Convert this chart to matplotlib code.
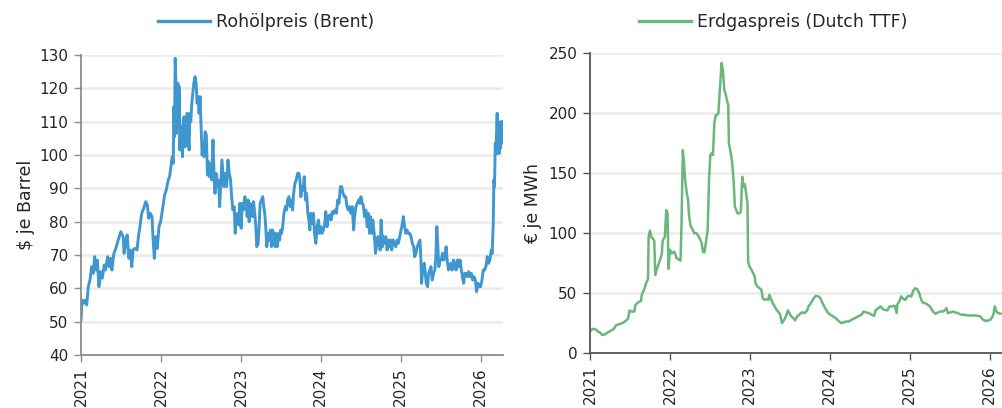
import matplotlib
matplotlib.use("Agg")
import matplotlib.pyplot as plt
from matplotlib.lines import Line2D

# ---------------- data ----------------
brent_years = [
    2021.000, 2021.012, 2021.029, 2021.050, 2021.071, 2021.091, 2021.112, 2021.133, 2021.154, 2021.170,
    2021.187, 2021.203, 2021.224, 2021.241, 2021.266, 2021.290, 2021.307, 2021.332, 2021.353, 2021.369,
    2021.386, 2021.411, 2021.436, 2021.465, 2021.498, 2021.527, 2021.539, 2021.556, 2021.577, 2021.598,
    2021.618, 2021.635, 2021.651, 2021.676, 2021.701, 2021.718, 2021.734, 2021.759, 2021.784, 2021.809,
    2021.830, 2021.846, 2021.867, 2021.888, 2021.900, 2021.917, 2021.934, 2021.954, 2021.975, 2021.996,
    2022.025, 2022.046, 2022.066, 2022.091, 2022.108, 2022.124, 2022.141, 2022.154, 2022.162, 2022.170,
    2022.178, 2022.187, 2022.195, 2022.203, 2022.212, 2022.220, 2022.228, 2022.237, 2022.245, 2022.257,
    2022.270, 2022.278, 2022.290, 2022.303, 2022.315, 2022.328, 2022.340, 2022.353, 2022.361, 2022.373,
    2022.386, 2022.398, 2022.411, 2022.427, 2022.440, 2022.452, 2022.465, 2022.477, 2022.490, 2022.502,
    2022.515, 2022.527, 2022.539, 2022.552, 2022.568, 2022.581, 2022.593, 2022.606, 2022.622, 2022.635,
    2022.651, 2022.664, 2022.676, 2022.689, 2022.705, 2022.722, 2022.734, 2022.751, 2022.763, 2022.776,
    2022.788, 2022.805, 2022.822, 2022.838, 2022.855, 2022.871, 2022.884, 2022.900, 2022.917, 2022.929,
    2022.942, 2022.959, 2022.975, 2022.988, 2023.004, 2023.017, 2023.033, 2023.050, 2023.066, 2023.079,
    2023.091, 2023.104, 2023.116, 2023.133, 2023.145, 2023.158, 2023.174, 2023.187, 2023.199, 2023.216,
    2023.228, 2023.241, 2023.257, 2023.274, 2023.286, 2023.299, 2023.311, 2023.324, 2023.340, 2023.353,
    2023.369, 2023.382, 2023.394, 2023.411, 2023.427, 2023.440, 2023.456, 2023.473, 2023.485, 2023.498,
    2023.510, 2023.523, 2023.539, 2023.556, 2023.573, 2023.585, 2023.602, 2023.618, 2023.631, 2023.647,
    2023.660, 2023.676, 2023.693, 2023.710, 2023.726, 2023.739, 2023.751, 2023.763, 2023.780, 2023.793,
    2023.809, 2023.822, 2023.838, 2023.851, 2023.863, 2023.876, 2023.892, 2023.909, 2023.921, 2023.938,
    2023.954, 2023.971, 2023.983, 2024.000, 2024.017, 2024.033, 2024.050, 2024.062, 2024.079, 2024.095,
    2024.112, 2024.129, 2024.145, 2024.162, 2024.178, 2024.195, 2024.212, 2024.228, 2024.245, 2024.261,
    2024.278, 2024.295, 2024.311, 2024.328, 2024.344, 2024.361, 2024.378, 2024.394, 2024.411, 2024.423,
    2024.440, 2024.456, 2024.473, 2024.490, 2024.502, 2024.519, 2024.531, 2024.548, 2024.564, 2024.581,
    2024.593, 2024.610, 2024.622, 2024.639, 2024.651, 2024.668, 2024.685, 2024.697, 2024.714, 2024.730,
    2024.743, 2024.755, 2024.772, 2024.784, 2024.801, 2024.813, 2024.830, 2024.842, 2024.859, 2024.871,
    2024.888, 2024.905, 2024.921, 2024.938, 2024.954, 2024.971, 2024.988, 2025.004, 2025.021, 2025.033,
    2025.046, 2025.062, 2025.079, 2025.095, 2025.112, 2025.129, 2025.145, 2025.162, 2025.174, 2025.191,
    2025.207, 2025.224, 2025.241, 2025.253, 2025.261, 2025.278, 2025.295, 2025.307, 2025.320, 2025.336,
    2025.349, 2025.365, 2025.378, 2025.394, 2025.411, 2025.427, 2025.440, 2025.452, 2025.465, 2025.477,
    2025.490, 2025.506, 2025.523, 2025.539, 2025.552, 2025.568, 2025.581, 2025.598, 2025.614, 2025.627,
    2025.643, 2025.660, 2025.676, 2025.693, 2025.710, 2025.726, 2025.743, 2025.759, 2025.772, 2025.788,
    2025.801, 2025.817, 2025.834, 2025.851, 2025.867, 2025.884, 2025.900, 2025.917, 2025.934, 2025.950,
    2025.967, 2025.983, 2026.000, 2026.017, 2026.033, 2026.050, 2026.066, 2026.083, 2026.100, 2026.116,
    2026.133, 2026.145, 2026.158, 2026.166, 2026.174, 2026.183, 2026.191, 2026.199, 2026.207, 2026.216,
    2026.224, 2026.232, 2026.241, 2026.249, 2026.257, 2026.266, 2026.274, 2026.278,
]
brent_usd = [
    50.5, 56.5, 55.5, 56.5, 55.0, 60.5, 62.5, 66.5, 64.5, 69.5,
    65.5, 68.5, 60.5, 65.0, 63.0, 67.0, 65.5, 69.5, 66.5, 69.0,
    65.5, 70.5, 72.0, 74.5, 77.0, 75.5, 70.5, 73.5, 76.0, 69.0,
    71.5, 66.5, 71.5, 72.0, 71.5, 75.5, 78.0, 82.5, 84.0, 86.0,
    85.0, 81.0, 82.5, 81.5, 75.5, 69.0, 75.5, 72.0, 78.5, 80.0,
    84.5, 88.0, 89.5, 92.5, 93.5, 96.5, 99.5, 97.5, 114.5, 105.5,
    129.0, 121.5, 106.5, 111.5, 121.5, 108.5, 120.5, 101.5, 108.5, 106.5,
    99.5, 110.5, 111.5, 102.5, 105.5, 112.5, 104.5, 101.5, 112.5, 110.0,
    115.5, 118.5, 121.5, 123.5, 121.5, 115.5, 117.5, 112.5, 117.5, 108.5,
    100.0, 104.0, 99.5, 107.0, 106.0, 94.0, 98.0, 93.5, 97.5, 92.5,
    104.5, 94.5, 88.5, 94.5, 90.5, 92.5, 84.5, 92.5, 98.5, 94.5,
    90.5, 94.5, 90.5, 98.5, 94.5, 92.5, 87.5, 83.5, 84.5, 76.5,
    81.5, 82.5, 79.0, 85.5, 78.0, 85.5, 83.5, 87.5, 85.5, 81.5,
    86.5, 80.0, 85.5, 83.5, 81.5, 86.0, 82.5, 78.5, 72.5, 73.5,
    78.5, 85.5, 86.5, 87.5, 84.5, 82.5, 78.5, 72.5, 76.5, 74.5,
    77.5, 72.5, 77.5, 76.5, 72.5, 76.5, 72.5, 76.5, 74.5, 77.5,
    76.5, 78.5, 82.5, 84.5, 83.5, 86.5, 87.5, 84.5, 86.5, 83.5,
    88.5, 91.5, 92.5, 94.5, 94.5, 92.5, 87.5, 90.5, 89.5, 93.5,
    86.5, 88.5, 82.5, 80.5, 77.5, 82.5, 79.5, 82.5, 76.5, 73.5,
    78.5, 80.5, 76.5, 78.5, 76.5, 77.5, 79.5, 83.0, 78.5, 81.5,
    82.0, 80.5, 83.0, 82.5, 83.5, 82.5, 86.5, 85.5, 90.5, 90.5,
    88.5, 87.5, 87.5, 84.5, 83.5, 84.5, 82.5, 84.5, 77.5, 81.5,
    84.5, 85.5, 86.5, 85.5, 87.5, 85.5, 85.0, 81.5, 83.5, 78.5,
    82.5, 76.5, 81.5, 76.5, 80.5, 76.5, 70.5, 72.5, 75.5, 74.5,
    71.5, 80.5, 72.5, 75.5, 73.5, 75.5, 71.5, 74.5, 72.5, 74.5,
    71.5, 74.5, 73.5, 72.5, 74.5, 73.5, 75.5, 77.5, 79.5, 81.5,
    79.0, 76.5, 77.5, 76.5, 76.5, 75.5, 73.5, 72.5, 69.5, 70.5,
    72.5, 73.5, 74.5, 68.5, 61.5, 66.5, 67.5, 64.5, 61.5, 60.5,
    64.5, 65.5, 66.5, 62.5, 64.5, 65.5, 69.5, 78.5, 72.5, 66.5,
    68.5, 68.5, 70.5, 68.5, 69.5, 72.5, 68.5, 65.5, 66.5, 67.5,
    65.5, 68.5, 67.5, 65.5, 68.5, 66.5, 68.5, 65.5, 63.5, 61.5,
    64.5, 64.5, 63.5, 65.0, 63.5, 64.5, 62.5, 63.5, 62.5, 59.0,
    61.5, 60.5, 60.5, 62.5, 65.5, 65.5, 66.5, 69.5, 67.5, 68.5,
    71.5, 70.5, 79.5, 92.5, 90.5, 103.5, 100.5, 106.5, 112.5, 100.5,
    110.0, 100.5, 109.0, 102.0, 110.0, 103.5, 110.0, 104.5,
]

ttf_years = [
    2021.000, 2021.029, 2021.062, 2021.100, 2021.133, 2021.154, 2021.187, 2021.224, 2021.266, 2021.299,
    2021.320, 2021.361, 2021.411, 2021.452, 2021.477, 2021.494, 2021.515, 2021.556, 2021.568, 2021.598,
    2021.639, 2021.651, 2021.680, 2021.701, 2021.726, 2021.734, 2021.751, 2021.768, 2021.784, 2021.805,
    2021.817, 2021.834, 2021.859, 2021.884, 2021.900, 2021.909, 2021.925, 2021.938, 2021.954, 2021.971,
    2021.983, 2022.000, 2022.025, 2022.050, 2022.066, 2022.083, 2022.108, 2022.133, 2022.145, 2022.162,
    2022.174, 2022.191, 2022.212, 2022.228, 2022.241, 2022.257, 2022.282, 2022.307, 2022.332, 2022.357,
    2022.382, 2022.398, 2022.415, 2022.432, 2022.448, 2022.473, 2022.490, 2022.506, 2022.523, 2022.539,
    2022.556, 2022.573, 2022.589, 2022.606, 2022.618, 2022.635, 2022.647, 2022.664, 2022.681, 2022.697,
    2022.714, 2022.730, 2022.739, 2022.763, 2022.780, 2022.797, 2022.813, 2022.830, 2022.846, 2022.871,
    2022.888, 2022.905, 2022.921, 2022.938, 2022.954, 2022.971, 2022.979, 2022.996, 2023.017, 2023.037,
    2023.062, 2023.071, 2023.095, 2023.120, 2023.145, 2023.162, 2023.187, 2023.212, 2023.232, 2023.245,
    2023.261, 2023.286, 2023.311, 2023.328, 2023.353, 2023.378, 2023.402, 2023.427, 2023.452, 2023.477,
    2023.494, 2023.519, 2023.544, 2023.568, 2023.593, 2023.618, 2023.651, 2023.685, 2023.718, 2023.734,
    2023.751, 2023.776, 2023.801, 2023.826, 2023.859, 2023.884, 2023.909, 2023.942, 2023.975, 2024.008,
    2024.041, 2024.075, 2024.108, 2024.141, 2024.174, 2024.207, 2024.241, 2024.274, 2024.315, 2024.357,
    2024.398, 2024.423, 2024.456, 2024.490, 2024.523, 2024.556, 2024.573, 2024.606, 2024.639, 2024.664,
    2024.689, 2024.722, 2024.747, 2024.780, 2024.813, 2024.838, 2024.846, 2024.871, 2024.896, 2024.921,
    2024.946, 2024.971, 2024.996, 2025.021, 2025.046, 2025.071, 2025.095, 2025.120, 2025.145, 2025.170,
    2025.195, 2025.228, 2025.253, 2025.278, 2025.303, 2025.328, 2025.353, 2025.386, 2025.419, 2025.444,
    2025.461, 2025.477, 2025.510, 2025.544, 2025.568, 2025.602, 2025.643, 2025.685, 2025.726, 2025.768,
    2025.809, 2025.851, 2025.884, 2025.909, 2025.942, 2025.975, 2026.008, 2026.033, 2026.050, 2026.066,
    2026.083, 2026.108, 2026.137,
]
ttf_eur = [
    18.0, 20.0, 20.0, 18.0, 16.6, 15.0, 15.5, 17.2, 18.8, 20.0,
    22.7, 24.0, 25.0, 27.0, 28.8, 35.5, 34.6, 34.6, 40.0, 42.0,
    43.5, 49.3, 53.0, 58.0, 61.5, 97.0, 102.0, 96.5, 95.6, 93.4,
    65.0, 69.3, 74.3, 79.0, 83.0, 93.4, 95.3, 97.0, 119.0, 116.4,
    70.0, 86.0, 83.0, 84.5, 83.0, 79.0, 78.0, 77.0, 105.0, 169.0,
    160.8, 144.0, 133.0, 127.5, 113.6, 106.7, 103.0, 99.8, 99.8, 97.5,
    94.2, 91.5, 84.3, 83.7, 91.0, 102.5, 144.0, 165.0, 166.3, 165.0,
    191.2, 198.2, 198.5, 199.6, 212.0, 230.0, 241.7, 235.6, 219.0, 216.2,
    210.6, 206.5, 174.6, 166.3, 158.0, 144.0, 122.0, 119.2, 116.4, 116.4,
    117.8, 146.9, 138.6, 140.8, 133.0, 124.7, 76.2, 72.0, 69.8, 67.0,
    63.7, 58.2, 55.4, 54.0, 52.7, 45.7, 44.3, 44.9, 44.3, 48.5,
    45.7, 41.6, 38.8, 36.6, 34.6, 32.4, 25.0, 27.2, 30.5, 35.5,
    33.3, 30.5, 29.1, 27.2, 30.5, 31.9, 33.8, 33.3, 35.5, 38.8,
    40.2, 43.0, 45.7, 47.7, 47.1, 45.7, 41.6, 37.4, 33.8, 31.9,
    30.5, 29.1, 26.9, 25.0, 25.5, 26.3, 26.3, 27.7, 29.1, 30.5,
    31.9, 34.6, 33.8, 33.3, 31.9, 31.0, 35.5, 37.4, 38.8, 36.6,
    36.0, 35.5, 38.8, 38.8, 39.4, 33.3, 40.2, 43.0, 47.1, 44.9,
    44.3, 47.1, 47.7, 47.1, 52.1, 54.0, 53.2, 49.9, 44.3, 41.6,
    41.6, 40.2, 38.8, 36.0, 33.8, 32.7, 33.8, 34.6, 34.6, 36.0,
    37.4, 33.3, 33.8, 34.6, 33.8, 33.3, 31.9, 31.9, 31.3, 31.3,
    31.3, 31.0, 30.5, 28.3, 26.9, 26.9, 27.7, 29.7, 32.7, 38.8,
    34.6, 33.3, 32.7,
]

year_ticks = [2021, 2022, 2023, 2024, 2025, 2026]
brent_yticks = [40, 50, 60, 70, 80, 90, 100, 110, 120, 130]
ttf_yticks = [0, 50, 100, 150, 200, 250]

brent_label = "Rohölpreis (Brent)"
ttf_label = "Erdgaspreis (Dutch TTF)"

# ---------------- styling ----------------
plt.rcParams['font.family'] = ['DejaVu Sans']
plt.rcParams['font.size'] = 11
text_color = '#262626'
brent_color = '#3f97cf'
ttf_color = '#69b77c'
grid_color = '#ebebeb'

fig = plt.figure(figsize=(10.03, 4.08), dpi=100)
ax1 = fig.add_axes([0.0808, 0.1299, 0.4207, 0.7353])
ax2 = fig.add_axes([0.5882, 0.1348, 0.4207, 0.7353])


def style(ax, spine_color):
    for s in ['top', 'right']:
        ax.spines[s].set_visible(False)
    for s in ['left', 'bottom']:
        ax.spines[s].set_color(spine_color)
        ax.spines[s].set_linewidth(1.3)
    ax.grid(axis='y', color=grid_color, linewidth=1.8)
    ax.set_axisbelow(True)
    ax.set_xticks(year_ticks)
    ax.set_xticklabels([str(y) for y in year_ticks], rotation=90, color=text_color)
    ax.tick_params(axis='both', direction='out', length=5, width=1.0, colors=spine_color,
                   labelcolor=text_color, labelsize=11)
    ax.tick_params(axis='x', pad=4)
    ax.tick_params(axis='y', pad=4)


# Brent
ax1.plot(brent_years, brent_usd, color=brent_color, linewidth=2.1, solid_joinstyle='round')
ax1.set_xlim(2021, 2026.28)
ax1.set_ylim(40, 130)
ax1.set_yticks(brent_yticks)
style(ax1, '#8c8c8c')
ax1.set_ylabel("$ je Barrel", color=text_color, fontsize=12.5, labelpad=3)

# TTF
ax2.plot(ttf_years, ttf_eur, color=ttf_color, linewidth=1.8, solid_joinstyle='round')
ax2.set_xlim(2021, 2026.28)
ax2.set_ylim(0, 250)
ax2.set_yticks(ttf_yticks)
style(ax2, '#555555')
ax2.set_ylabel("€ je MWh", color=text_color, fontsize=12.5, labelpad=5)

# legends
h1 = Line2D([], [], color=brent_color, linewidth=2.4)
h2 = Line2D([], [], color=ttf_color, linewidth=2.4)
fig.legend([h1], [brent_label], loc='center', bbox_to_anchor=(0.265, 0.946), frameon=False,
           fontsize=12.5, handlelength=3.0, handletextpad=0.35, labelcolor=text_color)
fig.legend([h2], [ttf_label], loc='center', bbox_to_anchor=(0.771, 0.946), frameon=False,
           fontsize=12.5, handlelength=3.0, handletextpad=0.35, labelcolor=text_color)

fig.savefig("out.png", dpi=100)
